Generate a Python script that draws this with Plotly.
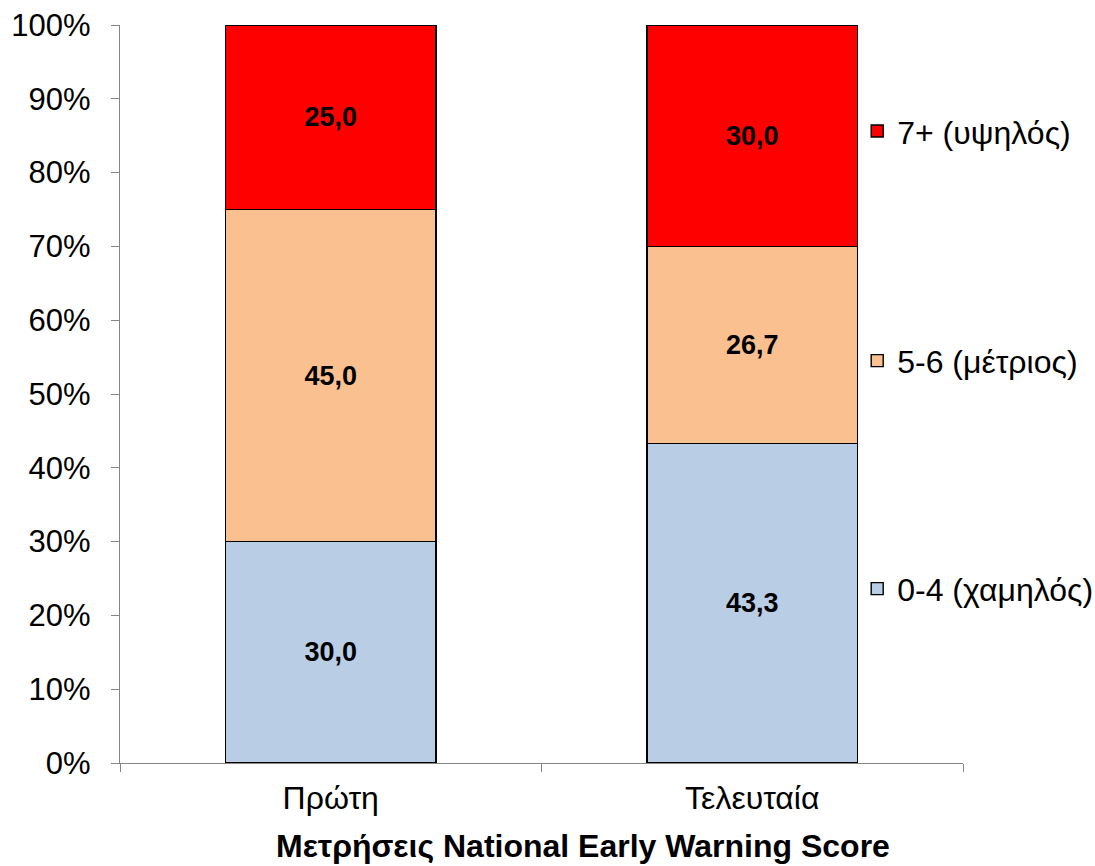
import plotly.graph_objects as go

categories = ["Πρώτη", "Τελευταία"]
low_vals = [30.0, 43.3]
mid_vals = [45.0, 26.7]
high_vals = [25.0, 30.0]

series = [
    ("0-4 (χαμηλός)", low_vals, "#B9CDE5", "legend3"),
    ("5-6 (μέτριος)", mid_vals, "#FAC090", "legend2"),
    ("7+ (υψηλός)", high_vals, "#FF0000", "legend"),
]

font = "Liberation Sans, Arial"

fig = go.Figure()
for name, vals, color, leg in series:
    fig.add_trace(go.Bar(
        x=categories, y=vals, name=name,
        marker=dict(color=color, line=dict(color="#000000", width=1.4)),
        texttemplate="%{y:.1f}", textposition="inside", insidetextanchor="middle",
        textfont=dict(family=font, size=27, color="#000000", weight="bold"),
        legend=leg,
    ))

leg_common = dict(xanchor="left", yanchor="middle", bgcolor="rgba(0,0,0,0)",
                  font=dict(family=font, size=32, color="#000000"))

fig.update_layout(
    barmode="stack",
    bargap=0.5,
    separators=",.",
    width=1095, height=866,
    margin=dict(l=120, r=132, t=25, b=103, autoexpand=False),
    plot_bgcolor="white", paper_bgcolor="white",
    font=dict(family=font, size=30, color="#000000"),
    showlegend=True,
    legend=dict(x=0.8745, y=0.856, **leg_common),
    legend2=dict(x=0.8745, y=0.545, **leg_common),
    legend3=dict(x=0.8745, y=0.236, **leg_common),
    xaxis=dict(
        showline=True, linecolor="#868686", linewidth=1.3,
        ticks="outside", tickson="boundaries", ticklen=8, tickcolor="#868686",
        tickfont=dict(family=font, size=32),
        ticklabelstandoff=6,
    ),
    yaxis=dict(
        range=[0, 100], dtick=10, ticksuffix="%",
        showline=True, linecolor="#868686", linewidth=1.3,
        ticks="outside", ticklen=8, tickcolor="#868686",
        showgrid=False, zeroline=False,
        tickfont=dict(family=font, size=31),
        ticklabelstandoff=14,
    ),
    annotations=[dict(
        text="<b>Μετρήσεις National Early Warning Score</b>",
        xref="paper", yref="paper", x=0.549, y=-0.086,
        xanchor="center", yanchor="top", showarrow=False,
        font=dict(family=font, size=32, color="#000000"),
    )],
)

fig.write_html("out.html")
